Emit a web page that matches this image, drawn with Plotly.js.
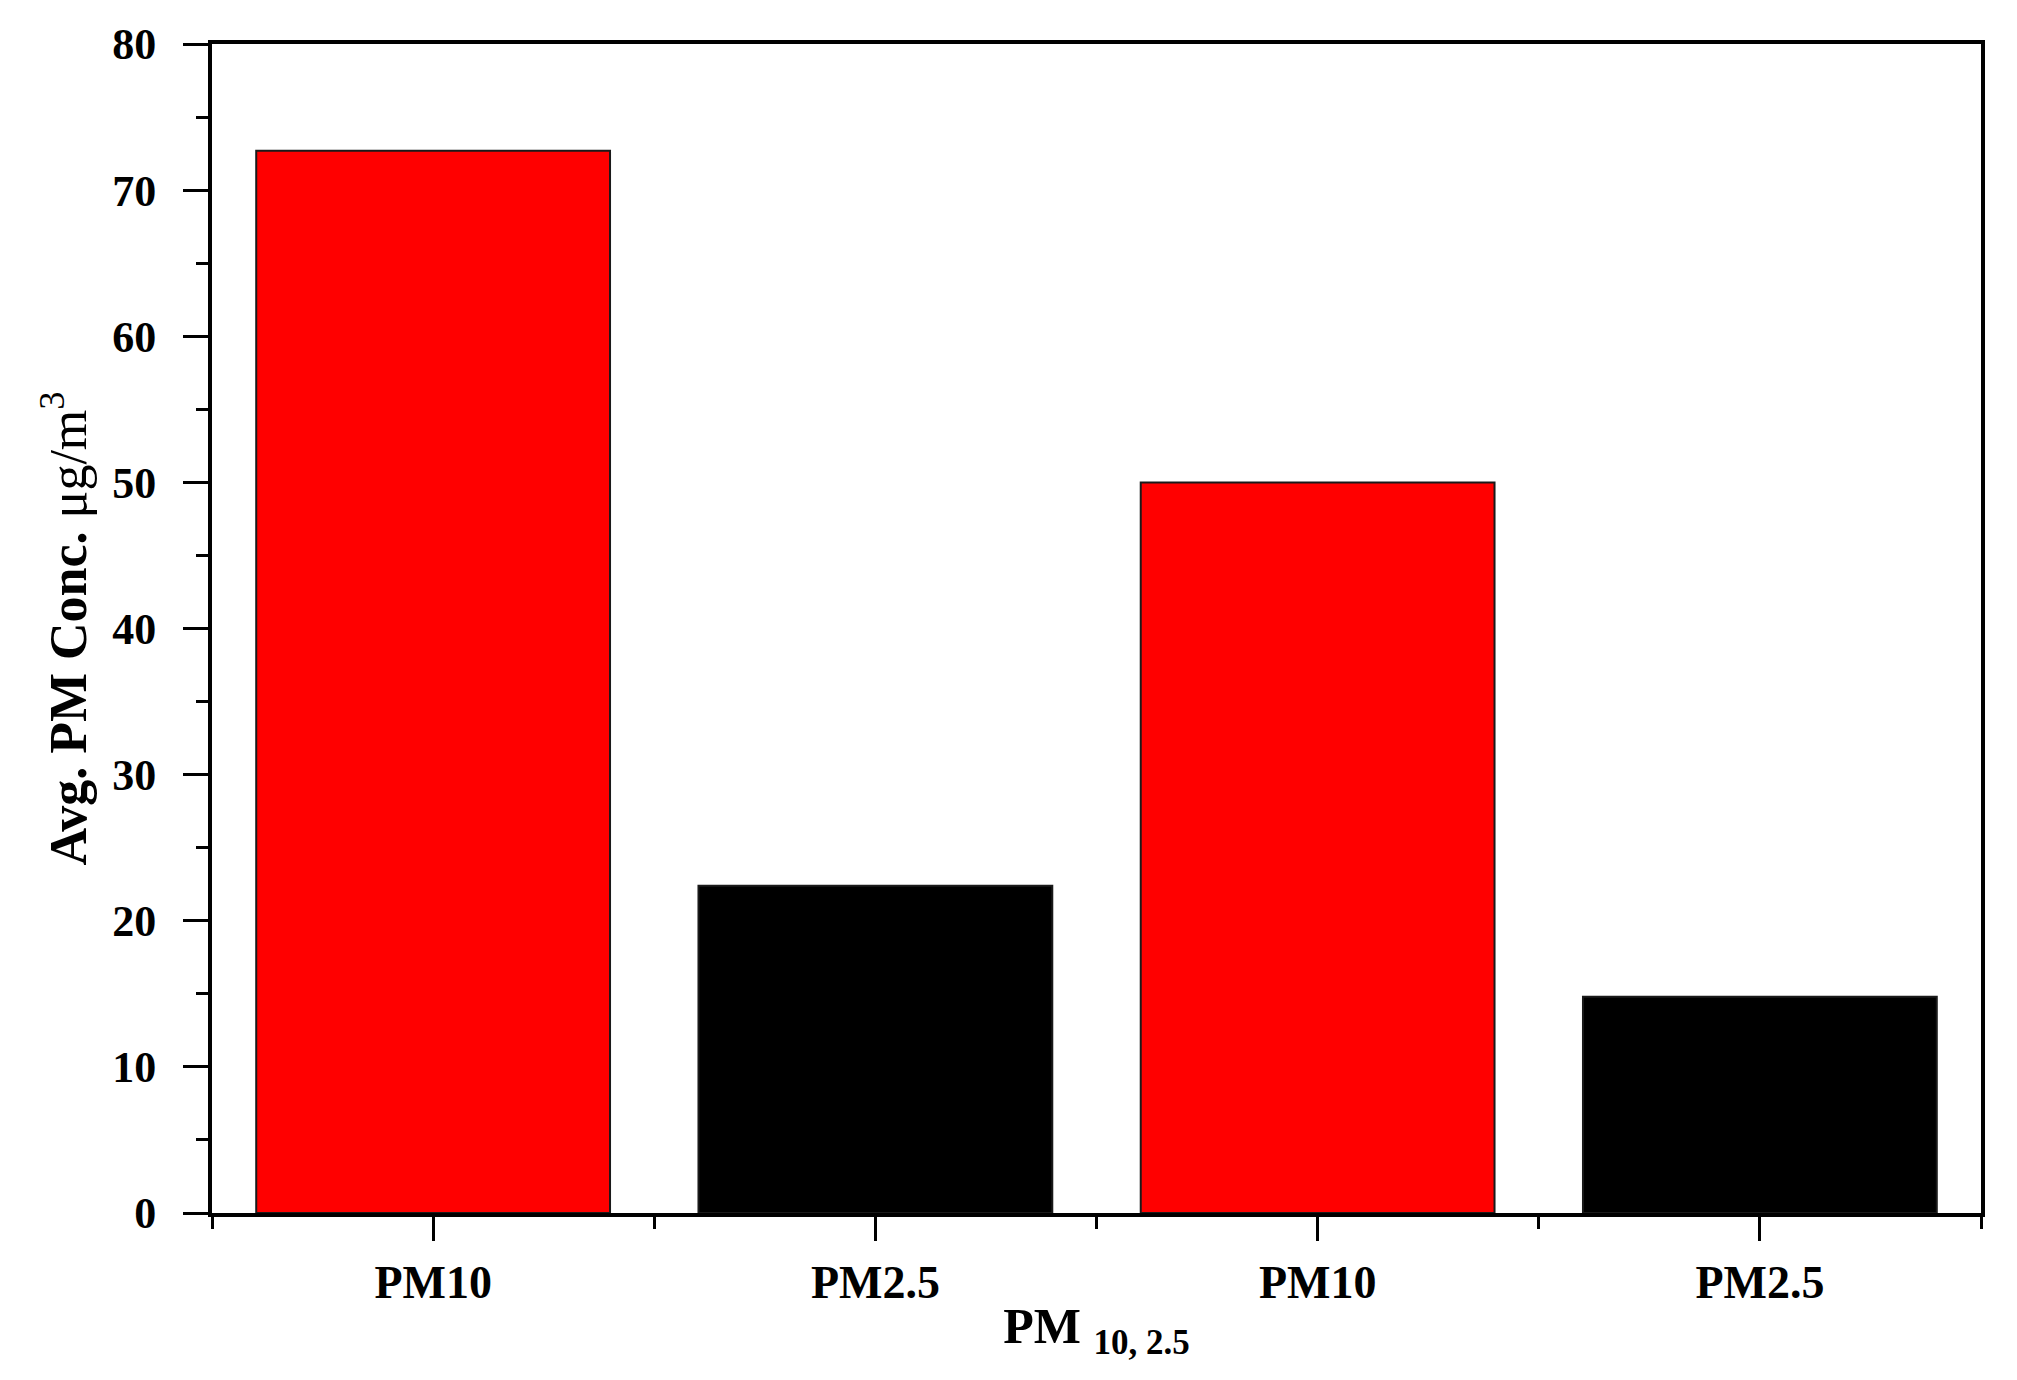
<!DOCTYPE html>
<html>
<head>
<meta charset="utf-8">
<script src="https://cdn.plot.ly/plotly-3.0.1.min.js"></script>
<style>
  html, body { margin: 0; padding: 0; background: #ffffff; }
  #chart { width: 2017px; height: 1380px; }
</style>
</head>
<body>
<div id="chart"></div>
<script>
// ---- Data ----
const categories = ["PM10", "PM2.5", "PM10", "PM2.5"];
const concentrations = [72.7, 22.4, 50.0, 14.8];
const yTickValues = [0, 10, 20, 30, 40, 50, 60, 70, 80];

// ---- Styles ----
const barColors = ["#ff0000", "#000000", "#ff0000", "#000000"];
const serif = "Liberation Serif, Times New Roman, serif";

const positions = categories.map((_, i) => i);
const minorX = positions.map(p => p - 0.5).concat([positions.length - 0.5]);

const trace = {
  type: "bar",
  x: positions,
  y: concentrations,
  width: 0.8,
  marker: {
    color: barColors,
    line: { color: "#1a1a1a", width: 2 }
  },
  hoverinfo: "y"
};

const layout = {
  width: 2017,
  height: 1380,
  margin: { l: 212, r: 36, t: 44, b: 167 },
  paper_bgcolor: "#ffffff",
  plot_bgcolor: "#ffffff",
  showlegend: false,
  font: { family: serif, color: "#000000" },
  xaxis: {
    type: "linear",
    range: [-0.5, categories.length - 0.5],
    tickmode: "array",
    tickvals: positions,
    ticktext: categories,
    ticks: "outside",
    ticklen: 24,
    tickwidth: 3,
    tickcolor: "#000000",
    minor: {
      tickmode: "array",
      tickvals: minorX,
      ticks: "outside",
      ticklen: 12,
      tickwidth: 3,
      tickcolor: "#000000",
      showgrid: false
    },
    tickfont: { family: serif, size: 46, color: "#000000", weight: "bold" },
    ticklabelstandoff: 2,
    showline: true,
    linecolor: "#000000",
    linewidth: 4,
    mirror: true,
    showgrid: false,
    zeroline: false,
    title: {
      text: "<b>PM</b> <sub><b>10, 2.5</b></sub>",
      font: { family: serif, size: 50, color: "#000000" },
      standoff: 2
    }
  },
  yaxis: {
    range: [0, 80],
    tickmode: "array",
    tickvals: yTickValues,
    ticks: "outside",
    ticklen: 25,
    tickwidth: 3,
    tickcolor: "#000000",
    minor: {
      dtick: 5,
      tick0: 0,
      ticks: "outside",
      ticklen: 12,
      tickwidth: 3,
      tickcolor: "#000000",
      showgrid: false
    },
    tickfont: { family: serif, size: 44, color: "#000000", weight: "bold" },
    ticklabelstandoff: 18,
    showline: true,
    linecolor: "#000000",
    linewidth: 4,
    mirror: true,
    showgrid: false,
    zeroline: false,
    title: {
      text: "<b>Avg. PM Conc.</b> μg/m<sup>3</sup>",
      font: { family: serif, size: 52, color: "#000000" },
      standoff: 10
    }
  }
};

Plotly.newPlot("chart", [trace], layout, { displayModeBar: false, staticPlot: true });
</script>
</body>
</html>
